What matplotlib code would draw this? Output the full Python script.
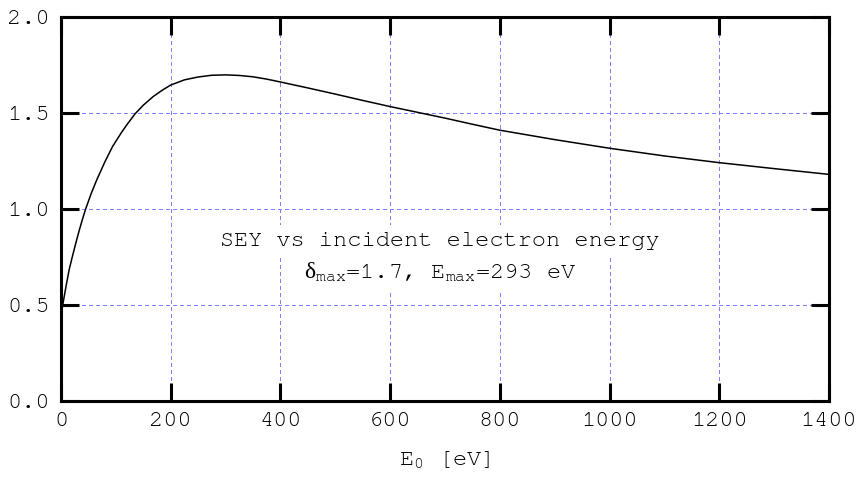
import numpy as np
import matplotlib
matplotlib.use("Agg")
import matplotlib.pyplot as plt
from matplotlib import font_manager
from matplotlib.ticker import FormatStrFormatter

# values
energy_ev = [0, 2, 5, 10, 15, 21, 27, 33, 39, 45, 55, 65, 80, 94, 110, 120,
             135, 150, 168, 185, 200, 225, 250, 275, 300, 325, 350, 375,
             400, 450, 500, 550, 600, 650, 700, 750, 800, 900, 1000, 1100,
             1200, 1300, 1400]
sey = [0.42, 0.48, 0.53, 0.61, 0.685, 0.755, 0.822, 0.886, 0.945, 1.00,
       1.08, 1.15, 1.245, 1.325, 1.397, 1.438, 1.495, 1.540, 1.585, 1.619,
       1.645, 1.672, 1.687, 1.696, 1.698, 1.695, 1.688, 1.676, 1.661,
       1.630, 1.598, 1.565, 1.533, 1.503, 1.473, 1.441, 1.41, 1.361,
       1.316, 1.276, 1.241, 1.21, 1.18]

x_ticks = [0, 200, 400, 600, 800, 1000, 1200, 1400]
y_ticks = [0.0, 0.5, 1.0, 1.5, 2.0]

title_line = "SEY vs incident electron energy"
param_line = r"$\mathsf{\delta}_{\mathrm{max}}$=1.7, E$_{\mathrm{max}}$=293 eV"


def first_font(names):
    for n in names:
        try:
            font_manager.findfont(n, fallback_to_default=False)
            return n
        except ValueError:
            pass
    return 'DejaVu Sans Mono'


mono = first_font(['Nimbus Mono PS', 'FreeMono', 'Courier New',
                   'Liberation Mono'])
plt.rcParams['font.family'] = [mono, 'DejaVu Sans']
plt.rcParams['mathtext.fontset'] = 'custom'
plt.rcParams['mathtext.rm'] = mono
plt.rcParams['mathtext.sf'] = 'Liberation Serif'
plt.rcParams['mathtext.it'] = 'Liberation Serif'

fig = plt.figure(figsize=(8.59, 4.82), dpi=100)
ax = fig.add_axes([0.071, 0.168, 0.894, 0.797])

ax.plot(energy_ev, sey, color='black', lw=1.1, zorder=3)

ax.set_xlim(0, 1400)
ax.set_ylim(0, 2.0)
ax.set_xticks(x_ticks)
ax.set_yticks(y_ticks)
ax.yaxis.set_major_formatter(FormatStrFormatter('%.1f'))

# light blue dotted grid, drawn crisp
ax.grid(True, color='#7f7fff', lw=0.72, linestyle=(0, (4, 3)), zorder=1)
for gl in ax.get_xgridlines() + ax.get_ygridlines():
    gl.set_snap(True)
    gl.set_antialiased(False)
ax.set_axisbelow(True)

for s in ax.spines.values():
    s.set_linewidth(2.2)
ax.tick_params(direction='in', length=13, width=2.2, top=True, right=True,
               labelsize=17, pad=8)

ax.set_xlabel(r"E$_{\mathrm{0}}$ [eV]", fontsize=17, labelpad=14)

box = dict(facecolor='white', edgecolor='none', pad=5)
ax.text(691, 0.809, title_line, fontsize=17, ha='center', va='baseline',
        bbox=box, zorder=2)
ax.text(691, 0.639, param_line, fontsize=17, ha='center', va='baseline',
        bbox=box, zorder=2)

fig.savefig("out.png", dpi=100)
